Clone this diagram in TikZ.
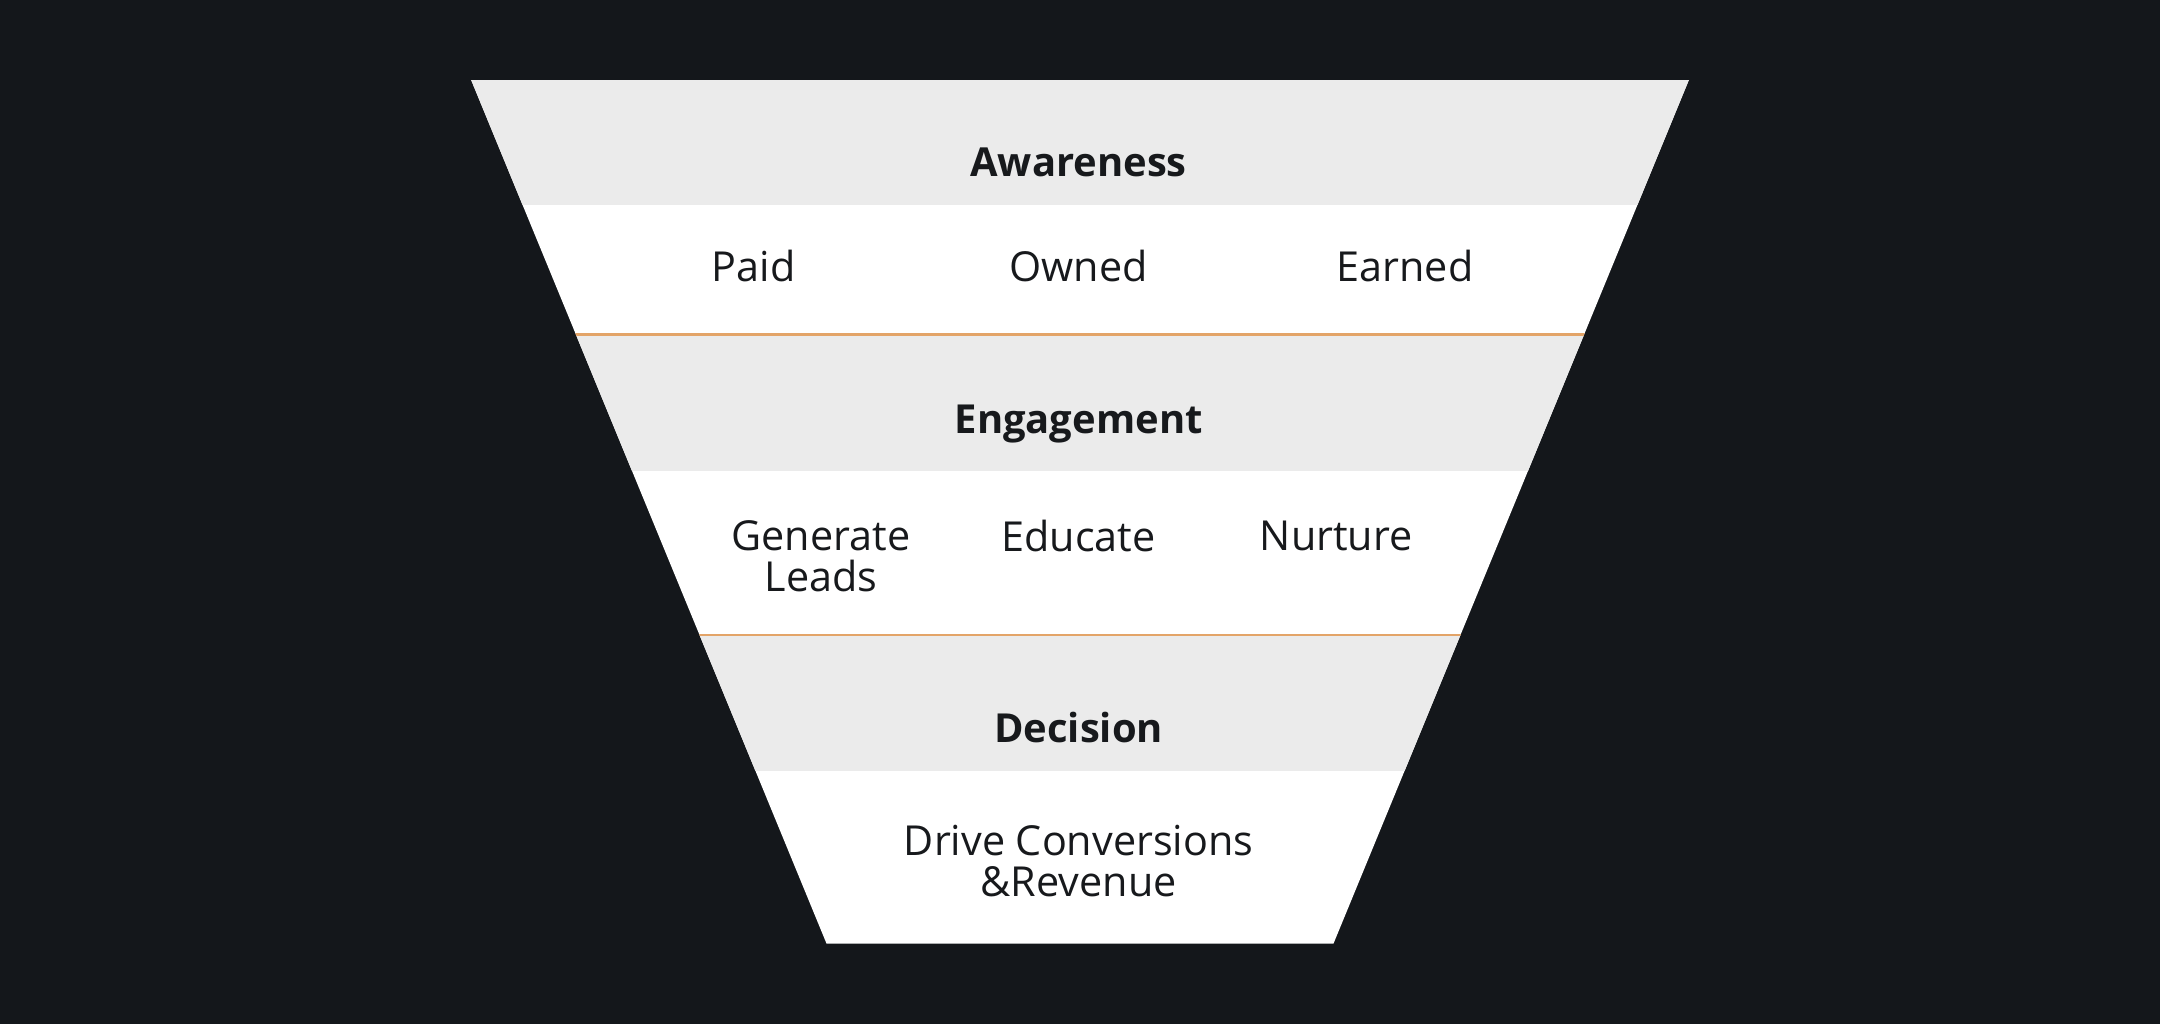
\documentclass[tikz,border=0pt]{standalone}
\usepackage{fontspec}
\setmainfont{Open Sans}
\definecolor{bg}{HTML}{14171B}
\definecolor{band}{HTML}{EBEBEB}
\definecolor{acc}{HTML}{E3A468}
\definecolor{ink}{HTML}{17191C}
\begin{document}
\begin{tikzpicture}[x=1pt,y=-1pt,
  title/.style={font=\fontsize{29}{32}\selectfont\bfseries,text=ink},
  item/.style={font=\fontsize{30}{30}\selectfont,text=ink,align=center}]
\fill[bg] (0,0) rectangle (1568,743);
\useasboundingbox (0,0) rectangle (1568,743);
\begin{scope}
\clip (342,58) -- (1226,58) -- (968,685) -- (600,685) -- cycle;
\fill[white] (300,58) rectangle (1300,685);
\fill[band] (300,58) rectangle (1300,149);
\fill[band] (300,243) rectangle (1300,342);
\fill[band] (300,461) rectangle (1300,560);
\draw[acc,line width=2pt] (300,243) -- (1300,243);
\draw[acc,line width=2pt] (300,461) -- (1300,461);
\end{scope}
\node[title] (aw) at (783,118) {Awareness};
\node[item] (paid) at (547,193) {Paid};
\node[item] (owned) at (783,193) {Owned};
\node[item] (earned) at (1020,193) {Earned};
\node[title] (en) at (783,308) {Engagement};
\node[item] (gen) at (596,404) {Generate\\Leads};
\node[item] (edu) at (783,389) {Educate};
\node[item] (nur) at (970,389) {Nurture};
\node[title] (de) at (783,528) {Decision};
\node[item] (drive) at (783,625) {Drive Conversions\\\&Revenue};
\end{tikzpicture}
\end{document}
